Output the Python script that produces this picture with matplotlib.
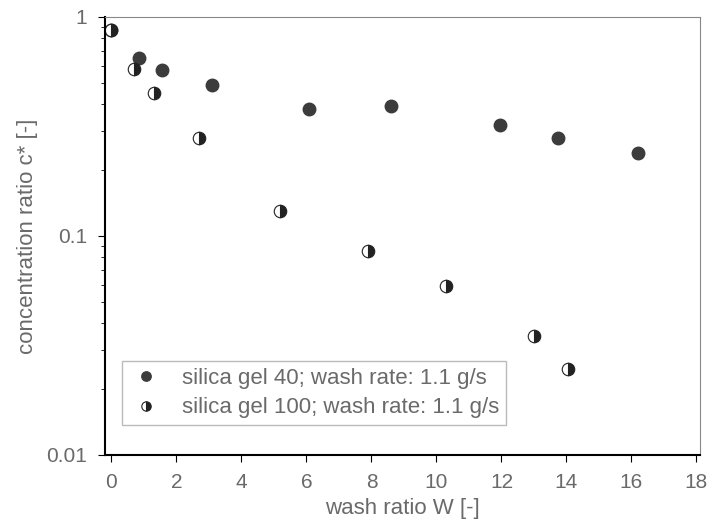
import matplotlib.pyplot as plt
import numpy as np

plt.rcParams['font.family'] = ['Liberation Sans', 'DejaVu Sans']

# silica gel 40, wash rate 1.1 g/s
w_40 = [0.0, 0.86, 1.54, 3.08, 6.09, 8.6, 11.97, 13.75, 16.2]
c_40 = [0.87, 0.65, 0.57, 0.49, 0.38, 0.39, 0.32, 0.28, 0.24]

# silica gel 100, wash rate 1.1 g/s
w_100 = [0.0, 0.7, 1.3, 2.68, 5.2, 7.9, 10.3, 13.0, 14.06]
c_100 = [0.87, 0.58, 0.45, 0.28, 0.13, 0.085, 0.059, 0.035, 0.0247]

grey = '#6a6a6a'

fig = plt.figure(figsize=(7.14, 5.29), dpi=100)
ax = fig.add_axes([0.147, 0.14, 0.833, 0.828])

ax.plot(w_40, c_40, 'o', color='#3c3c3c', markersize=9, linestyle='none',
        label='silica gel 40; wash rate: 1.1 g/s')
ax.plot(w_100, c_100, 'o', color='#222222', markerfacecoloralt='white',
        fillstyle='right', markersize=9, markeredgewidth=0.8, linestyle='none',
        label='silica gel 100; wash rate: 1.1 g/s')

ax.set_yscale('log')
ax.set_ylim(0.01, 1)
ax.set_xlim(-0.2, 18.1)
ax.set_xticks(np.arange(0, 19, 2))
ax.set_yticks([0.01, 0.1, 1])
ax.set_yticklabels(['0.01', '0.1', '1'])

ax.set_xlabel('wash ratio W [-]', fontsize=16, color=grey, labelpad=4)
ax.set_ylabel('concentration ratio c* [-]', fontsize=16, color=grey, labelpad=6)
ax.tick_params(axis='both', labelsize=15, labelcolor=grey, direction='out')
ax.tick_params(which='major', length=5, pad=8)
ax.tick_params(which='minor', length=3)

ax.spines['left'].set_linewidth(1.5)
ax.spines['bottom'].set_linewidth(1.5)
ax.spines['top'].set_color('#888888')
ax.spines['right'].set_color('#888888')
ax.spines['top'].set_linewidth(0.8)
ax.spines['right'].set_linewidth(0.8)

leg = ax.legend(loc='lower left', bbox_to_anchor=(0.029, 0.068), fontsize=16,
                frameon=True, fancybox=False, edgecolor='#aaaaaa',
                markerscale=0.75, handlelength=1.5, handletextpad=0.9,
                borderpad=0.3, labelspacing=0.4, borderaxespad=0)
for t in leg.get_texts():
    t.set_color(grey)

fig.savefig('out.png', dpi=100)
